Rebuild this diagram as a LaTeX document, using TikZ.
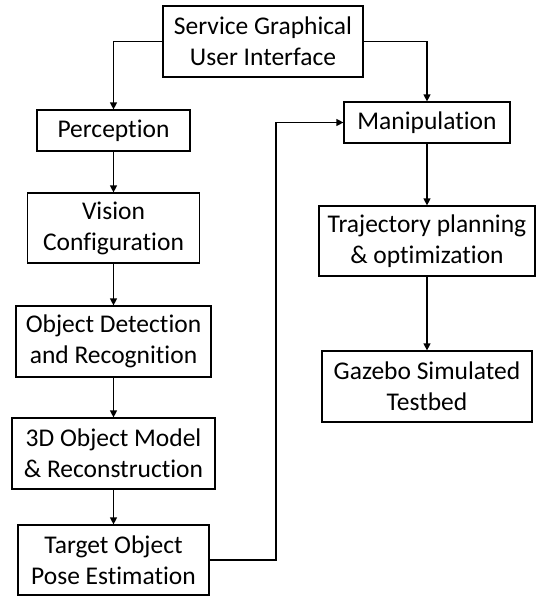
\documentclass[tikz,border=0pt]{standalone}
\usepackage{fontspec}
\setmainfont{Carlito}[Ligatures=NoCommon]
\usetikzlibrary{arrows.meta}
\tikzset{
  box/.style={draw=black, line width=1.2pt, rectangle, inner sep=0pt, align=center,
    font=\fontsize{25.5}{31}\selectfont},
  arr/.style={line width=1.2pt, -{Triangle[length=7pt,width=7pt]}},
}
\begin{document}
\begin{tikzpicture}[x=1pt,y=-1pt]
\useasboundingbox (0,0) rectangle (537,597);
\node[box, minimum width=200pt, minimum height=71pt] (gui) at (263,41.5) {Service Graphical\\User Interface};
\node[box, minimum width=153pt, minimum height=41pt] (perc) at (113.5,130.5) {Perception};
\node[box, minimum width=172pt, minimum height=70pt] (vis) at (113.5,228) {Vision\\Configuration};
\node[box, minimum width=195pt, minimum height=71pt] (det) at (113.5,341.5) {Object Detection\\and Recognition};
\node[box, minimum width=203pt, minimum height=71pt] (rec) at (113.5,453.5) {3D Object Model\\\& Reconstruction};
\node[box, minimum width=191pt, minimum height=70pt] (pose) at (113.5,560) {Target Object\\Pose Estimation};
\node[box, minimum width=166pt, minimum height=41pt] (man) at (427,122.5) {Manipulation};
\node[box, minimum width=216pt, minimum height=70pt] (traj) at (427,241) {Trajectory planning\\\& optimization};
\node[box, minimum width=210pt, minimum height=71pt] (gaz) at (427,386.5) {Gazebo Simulated\\Testbed};
\coordinate (fb) at (276,300);
\draw[arr] (gui.west) -| (perc.north);
\draw[arr] (gui.east) -| (man.north);
\draw[arr] (perc) -- (vis);
\draw[arr] (vis) -- (det);
\draw[arr] (det) -- (rec);
\draw[arr] (rec) -- (pose);
\draw[arr] (man) -- (traj);
\draw[arr] (traj) -- (gaz);
\draw[arr] (pose.east) -- (pose.east -| fb) -- (man.west -| fb) -- (man.west);
\end{tikzpicture}
\end{document}
